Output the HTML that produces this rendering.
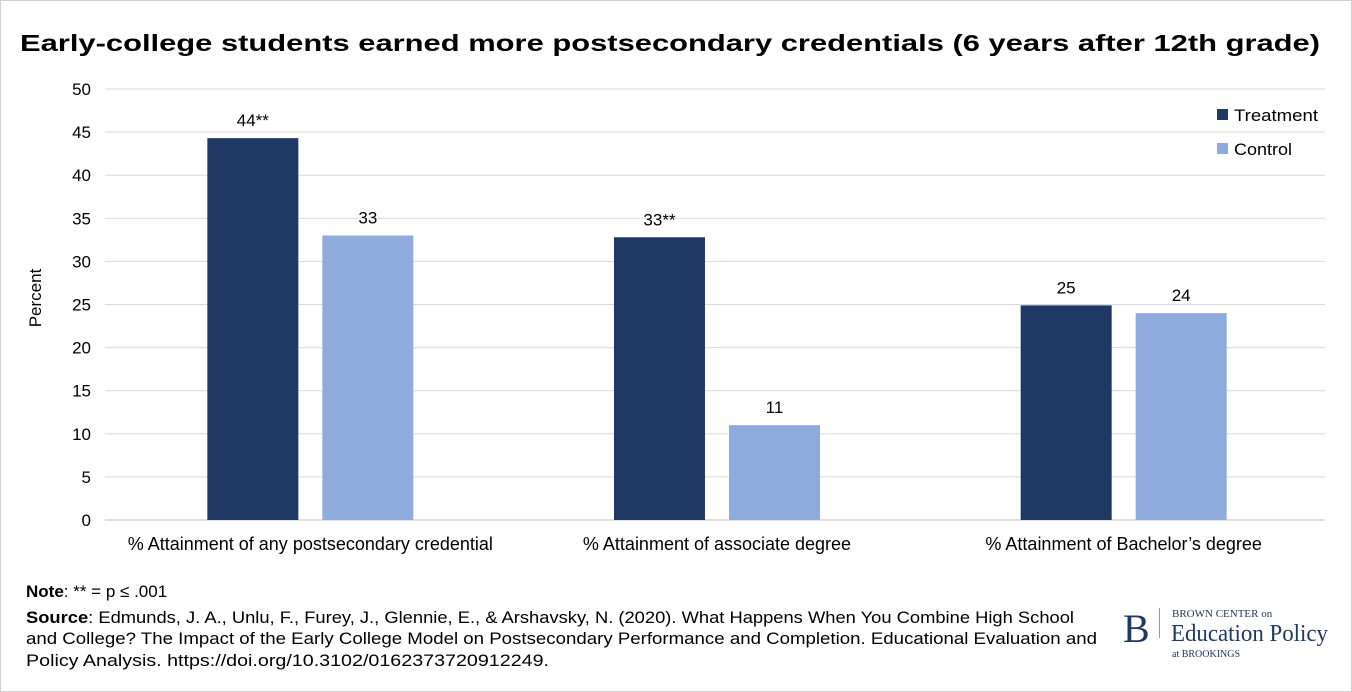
<!DOCTYPE html>
<html><head><meta charset="utf-8"><style>
html,body{margin:0;padding:0;background:#fff;}
svg{display:block;font-family:"Liberation Sans",sans-serif;}
</style></head><body>
<svg id="chart" width="1352" height="692" viewBox="0 0 1352 692">
<rect x="0.5" y="0.5" width="1351" height="691" fill="#fff" stroke="#d0d0d0"/>
<text x="20" y="51" font-size="23" font-weight="bold" fill="#000" textLength="1300" lengthAdjust="spacingAndGlyphs">Early-college students earned more postsecondary credentials (6 years after 12th grade)</text>
<g id="grid"></g><g id="bars"></g><g id="labels"></g>
<text transform="translate(41,298) rotate(-90)" text-anchor="middle" font-size="17" fill="#000">Percent</text>
<g>
<rect x="1217" y="109" width="11" height="11" fill="#203864"/>
<text x="1234" y="121" font-size="17" textLength="84" lengthAdjust="spacingAndGlyphs">Treatment</text>
<rect x="1217" y="143" width="11" height="11" fill="#8faadc"/>
<text x="1234" y="155" font-size="17" textLength="58" lengthAdjust="spacingAndGlyphs">Control</text>
</g>
<text x="26" y="597" font-size="17"><tspan font-weight="bold">Note</tspan>: ** = p ≤ .001</text>
<text font-size="17">
<tspan x="26" y="623" textLength="1048" lengthAdjust="spacingAndGlyphs"><tspan font-weight="bold">Source</tspan>: Edmunds, J. A., Unlu, F., Furey, J., Glennie, E., &amp; Arshavsky, N. (2020). What Happens When You Combine High School</tspan>
<tspan x="26" y="644" textLength="1071" lengthAdjust="spacingAndGlyphs">and College? The Impact of the Early College Model on Postsecondary Performance and Completion. Educational Evaluation and</tspan>
<tspan x="26" y="666" textLength="523" lengthAdjust="spacingAndGlyphs">Policy Analysis. https://doi.org/10.3102/0162373720912249.</tspan>
</text>
<g fill="#1f3864" font-family="Liberation Serif, serif">
<text x="1123" y="642" font-size="40">B</text>
<rect x="1159" y="608" width="1" height="30" fill="#999"/>
<text x="1172" y="617" font-size="11">BROWN CENTER on</text>
<text x="1171" y="641" font-size="24" textLength="157" lengthAdjust="spacingAndGlyphs">Education Policy</text>
<text x="1172" y="657" font-size="10">at BROOKINGS</text>
</g>
<script>
const categories=["% Attainment of any postsecondary credential","% Attainment of associate degree","% Attainment of Bachelor’s degree"];
const treatment=[44.3,32.8,24.9];
const control=[33.0,11.0,24.0];
const treatmentLabels=["44**","33**","25"];
const controlLabels=["33","11","24"];
const yTicks=[0,5,10,15,20,25,30,35,40,45,50];
const NS="http://www.w3.org/2000/svg";
const x0=105,x1=1325,y0=520,y1=89,ymax=50;
const y=v=>y0-(v/ymax)*(y0-y1);
const gw=(x1-x0)/categories.length;
const cx=i=>x0+gw*(i+0.5);
function mk(tag,attrs,parent){const e=document.createElementNS(NS,tag);for(const k in attrs)e.setAttribute(k,attrs[k]);parent.appendChild(e);return e;}
const grid=document.getElementById('grid'),bars=document.getElementById('bars'),labels=document.getElementById('labels');
yTicks.forEach(t=>{
 const l=mk('line',{x1:x0,x2:x1,y1:y(t),y2:y(t),stroke:t===0?'#bfbfbf':'#d9d9d9','stroke-width':1},grid);
 
 
 const tx=mk('text',{x:91,y:y(t)+6,'text-anchor':'end','font-size':17},grid);
 tx.textContent=t;
 
 
});
const bw=91;
categories.forEach((c,i)=>{
 [[treatment,treatmentLabels,'#203864','treatment',-101],[control,controlLabels,'#8faadc','control',14]].forEach(([vals,lbs,col,nm,off])=>{
  const bx=cx(i)+off;
  const r=mk('rect',{x:bx,y:y(vals[i]),width:bw,height:y0-y(vals[i]),fill:col},bars);
  
  
  const t=mk('text',{x:bx+bw/2,y:y(vals[i])-12,'text-anchor':'middle','font-size':17},labels);
  t.textContent=lbs[i];
  
  
 });
 const ct=mk('text',{x:cx(i)+2,y:550,'text-anchor':'middle','font-size':18},labels);
 ct.textContent=c;
 
 
});
</script>
</svg>
</body></html>
